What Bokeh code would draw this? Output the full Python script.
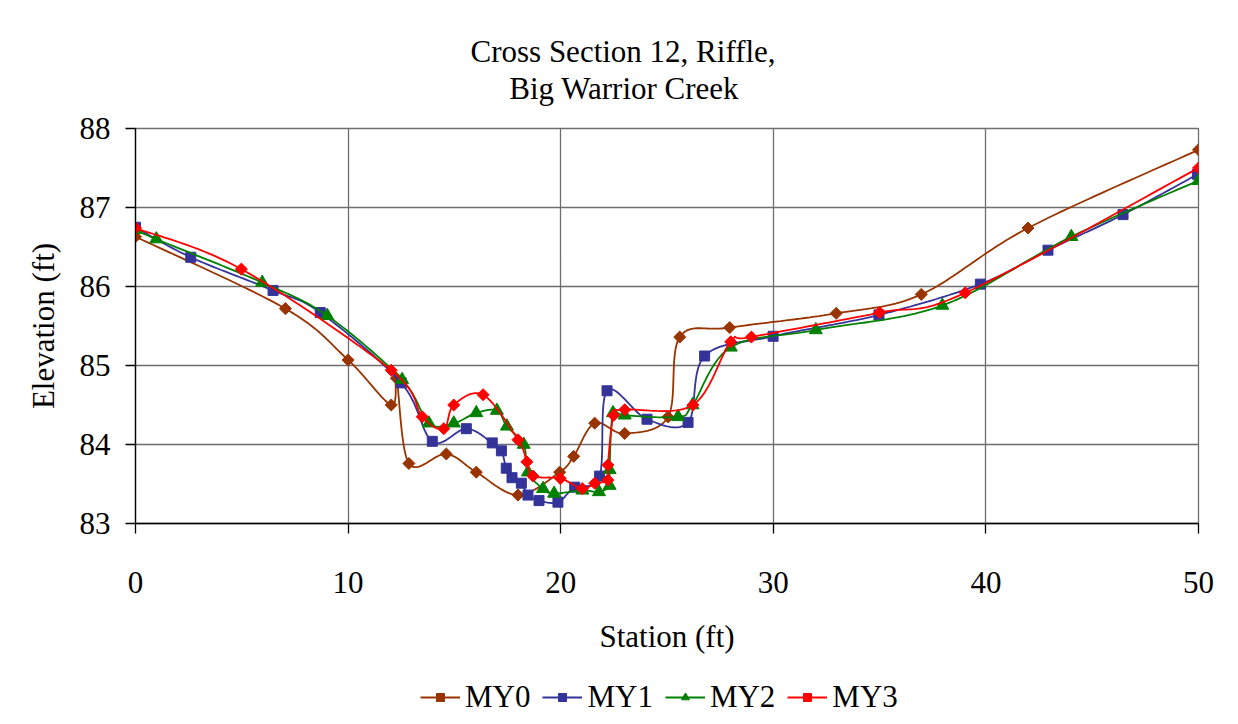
import numpy as np
from bokeh.plotting import figure
from bokeh.layouts import column
from bokeh.models import Legend, LegendItem, FixedTicker, Title, Range1d
from bokeh.embed import file_html
from bokeh.resources import INLINE

# ---------------- data ----------------
title_lines = ["Cross Section 12, Riffle,", "Big Warrior Creek"]
x_label = "Station (ft)"
y_label = "Elevation (ft)"
x_ticks = [0, 10, 20, 30, 40, 50]
y_ticks = [83, 84, 85, 86, 87, 88]
series_names = ["MY0", "MY1", "MY2", "MY3"]

my0_x = [0, 7.05, 10.0, 12.03, 12.27, 12.86, 14.62, 16.03, 17.99, 19.95, 20.61, 21.6,
         23.01, 25.05, 25.6, 27.95, 32.96, 36.96, 41.98, 50.0]
my0_y = [86.63, 85.72, 85.07, 84.50, 84.84, 83.76, 83.88, 83.65, 83.36, 83.65, 83.85, 84.27,
         84.14, 84.35, 85.36, 85.48, 85.66, 85.90, 86.74, 87.73]

my1_x = [0, 2.6, 6.47, 8.69, 12.5, 13.96, 15.56, 16.78, 17.21, 17.44, 17.71, 18.15, 18.46,
         18.98, 19.87, 20.66, 21.83, 22.18, 24.06, 25.99, 26.77, 29.99, 34.97, 39.74, 42.92,
         46.45, 49.95]
my1_y = [86.75, 86.37, 85.95, 85.67, 84.78, 84.04, 84.20, 84.02, 83.92, 83.70, 83.58, 83.51,
         83.36, 83.29, 83.27, 83.46, 83.60, 84.68, 84.32, 84.28, 85.12, 85.37, 85.64, 86.03,
         86.46, 86.91, 87.42]

my2_x = [0, 0.98, 5.96, 9.02, 12.54, 13.8, 14.97, 16.03, 17.0, 17.47, 18.26, 18.46, 19.17,
         19.69, 21.02, 21.8, 22.3, 22.3, 22.46, 23.01, 25.52, 26.2, 28.0, 32.0, 37.95, 44.02,
         50.0]
my2_y = [86.72, 86.60, 86.05, 85.63, 84.82, 84.27, 84.27, 84.40, 84.43, 84.23, 84.00, 83.65,
         83.44, 83.38, 83.42, 83.40, 83.48, 83.68, 84.40, 84.37, 84.35, 84.50, 85.23, 85.45,
         85.76, 86.63, 87.34]

my3_x = [0, 4.98, 12.03, 13.49, 14.5, 14.97, 16.35, 17.99, 18.41, 18.7, 19.98, 21.02, 21.6,
         22.22, 22.22, 22.49, 23.01, 26.22, 28.0, 28.97, 35.0, 39.03, 50.0]
my3_y = [86.74, 86.22, 84.94, 84.35, 84.20, 84.50, 84.63, 84.06, 83.78, 83.60, 83.57, 83.44,
         83.51, 83.55, 83.74, 84.37, 84.44, 84.50, 85.30, 85.36, 85.67, 85.92, 87.50]

# ---------------- styling ----------------
FONT = "Liberation Serif"
COLORS = ["#993300", "#333399", "#008000", "#FF0000"]


def smooth(xs, ys, n=24):
    """Excel-like smoothed line: cubic Bezier through the points."""
    P = np.column_stack([xs, ys]).astype(float)
    m = len(P)
    out = [P[0]]
    t = np.linspace(0, 1, n + 1)[1:, None]
    for i in range(m - 1):
        p0 = P[i - 1] if i > 0 else P[i]
        p1, p2 = P[i], P[i + 1]
        p3 = P[i + 2] if i + 2 < m else P[i + 1]
        c1 = p1 + (p2 - p0) / 6.0
        c2 = p2 - (p3 - p1) / 6.0
        seg = (1 - t) ** 3 * p1 + 3 * (1 - t) ** 2 * t * c1 + 3 * (1 - t) * t ** 2 * c2 + t ** 3 * p2
        out.extend(seg)
    out = np.array(out)
    return out[:, 0], out[:, 1]


p = figure(frame_width=1063, frame_height=395,
           x_range=Range1d(x_ticks[0], x_ticks[-1]), y_range=Range1d(y_ticks[0], y_ticks[-1]),
           output_backend="svg", toolbar_location=None,
           min_border_left=135, min_border_right=25, min_border_top=128, min_border_bottom=126)

# two-line title; second line padded with no-break spaces so it sits centred under the first
title_text = title_lines[0] + "\n" + "\u00a0" * 5 + title_lines[1]
p.title = Title(text=title_text, align="left", offset=335, text_font=FONT,
                text_font_size="31px", text_font_style="normal", text_color="black",
                text_line_height=1.08, standoff=44)

p.background_fill_color = "white"
p.border_fill_color = "white"
p.outline_line_color = "#6e6e6e"
p.outline_line_width = 1.3

p.xaxis.ticker = FixedTicker(ticks=x_ticks)
p.yaxis.ticker = FixedTicker(ticks=y_ticks)
p.xgrid.ticker = FixedTicker(ticks=x_ticks)
p.ygrid.ticker = FixedTicker(ticks=y_ticks)
for g in (p.xgrid[0], p.ygrid[0]):
    g.grid_line_color = "#6e6e6e"
    g.grid_line_width = 1.3

for ax in (p.xaxis[0], p.yaxis[0]):
    ax.axis_line_color = "black"
    ax.axis_line_width = 1.3
    ax.major_tick_line_color = "black"
    ax.major_tick_line_width = 1.3
    ax.major_tick_out = 10
    ax.major_tick_in = 0
    ax.minor_tick_line_color = None
    ax.major_label_text_font = FONT
    ax.major_label_text_font_size = "31px"
    ax.major_label_text_color = "black"
    ax.axis_label_text_font = FONT
    ax.axis_label_text_font_size = "31px"
    ax.axis_label_text_font_style = "normal"
    ax.axis_label_text_color = "black"

p.xaxis.axis_label = x_label
p.yaxis.axis_label = y_label
p.xaxis.major_label_standoff = 38
p.xaxis.axis_label_standoff = 23
p.yaxis.major_label_standoff = 15
p.yaxis.axis_label_standoff = 16

series = [(my0_x, my0_y), (my1_x, my1_y), (my2_x, my2_y), (my3_x, my3_y)]
marker_kw = [
    dict(marker="square", angle=np.pi / 4, size=8.5),
    dict(marker="square", size=10),
    dict(marker="triangle", size=13),
    dict(marker="square", angle=np.pi / 4, size=8.5),
]

# legend strip below the chart (its own small canvas so nothing gets clipped)
total_h = 708
main_h = 128 + 395 + 126
leg = figure(width=135 + 1063 + 25, height=total_h - main_h,
             x_range=Range1d(x_ticks[0], x_ticks[-1]), y_range=Range1d(y_ticks[0], y_ticks[-1]),
             x_axis_type=None, y_axis_type=None, output_backend="svg", toolbar_location=None,
             min_border=0, outline_line_color=None)
leg.title.visible = False
leg.xgrid.visible = False
leg.ygrid.visible = False
leg.background_fill_color = "white"
leg.border_fill_color = "white"

items = []
for (xs, ys), name, col, mk in zip(series, series_names, COLORS, marker_kw):
    sx, sy = smooth(xs, ys)
    p.line(sx, sy, line_color=col, line_width=1.8)
    p.scatter(xs, ys, fill_color=col, line_color=col, **mk)
    lr = leg.line(sx, sy, line_color=col, line_width=1.8, visible=False)
    sr = leg.scatter(xs, ys, fill_color=col, line_color=col, visible=False, **mk)
    items.append(LegendItem(label=name, renderers=[lr, sr]))

legend = Legend(items=items, orientation="horizontal", location=(285, 0),
                label_text_font=FONT, label_text_font_size="31px", label_text_color="black",
                glyph_width=40, glyph_height=20, label_standoff=5, spacing=12,
                padding=0, margin=0, border_line_color=None, background_fill_alpha=0,
                inactive_fill_alpha=0)
leg.add_layout(legend, "center")

layout = column(p, leg, spacing=0)
open("out.html", "w").write(file_html(layout, INLINE))
